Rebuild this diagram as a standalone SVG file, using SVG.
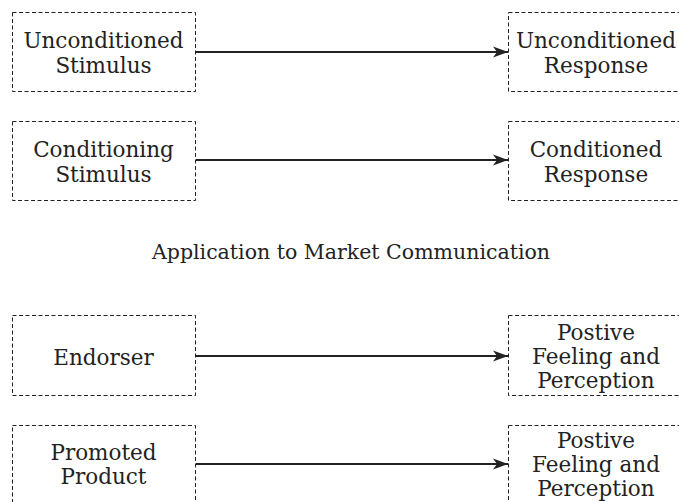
<svg xmlns="http://www.w3.org/2000/svg" width="679" height="502" viewBox="0 0 679 502">
<style>
.box{fill:none;stroke:#222;stroke-width:1;stroke-dasharray:4 2.5}
.t{font-family:"DejaVu Serif","Liberation Serif",serif;font-size:21.5px;fill:#222;text-anchor:middle}
.title{font-family:"DejaVu Serif","Liberation Serif",serif;font-size:20.5px;fill:#222;text-anchor:middle}
.conn{stroke:#222;stroke-width:2;fill:none;marker-end:url(#ah)}
</style>
<defs>
<marker id="ah" markerWidth="16" markerHeight="12" refX="15" refY="6" orient="auto" markerUnits="userSpaceOnUse">
<path d="M0,0.5 L15,6 L0,11.5 L4,6 Z" fill="#222"/>
</marker>
</defs>
<g id="n1"><rect class="box" x="12.5" y="12.5" width="183" height="79"/><text class="t" x="103.5" y="48">Unconditioned</text><text class="t" x="103.5" y="73">Stimulus</text></g>
<g id="n2"><rect class="box" x="508.5" y="12.5" width="175" height="79"/><text class="t" x="596" y="48">Unconditioned</text><text class="t" x="596" y="73">Response</text></g>
<g id="n3"><rect class="box" x="12.5" y="121.5" width="183" height="79"/><text class="t" x="103.5" y="157">Conditioning</text><text class="t" x="103.5" y="182">Stimulus</text></g>
<g id="n4"><rect class="box" x="508.5" y="121.5" width="175" height="79"/><text class="t" x="596" y="157">Conditioned</text><text class="t" x="596" y="182">Response</text></g>
<g id="title"><text class="title" x="351" y="259">Application to Market Communication</text></g>
<g id="n5"><rect class="box" x="12.5" y="315.5" width="183" height="80"/><text class="t" x="103.5" y="365">Endorser</text></g>
<g id="n6"><rect class="box" x="508.5" y="315.5" width="175" height="80"/><text class="t" x="596" y="340">Postive</text><text class="t" x="596" y="364">Feeling and</text><text class="t" x="596" y="388">Perception</text></g>
<g id="n7"><rect class="box" x="12.5" y="425.5" width="183" height="80"/><text class="t" x="103.5" y="460">Promoted</text><text class="t" x="103.5" y="484">Product</text></g>
<g id="n8"><rect class="box" x="508.5" y="425.5" width="175" height="80"/><text class="t" x="596" y="448">Postive</text><text class="t" x="596" y="472">Feeling and</text><text class="t" x="596" y="496">Perception</text></g>
<g id="connectors">
<line class="conn" x1="196" y1="52" x2="508" y2="52"/>
<line class="conn" x1="196" y1="160" x2="508" y2="160"/>
<line class="conn" x1="196" y1="356" x2="508" y2="356"/>
<line class="conn" x1="196" y1="464" x2="508" y2="464"/>
</g>
</svg>
